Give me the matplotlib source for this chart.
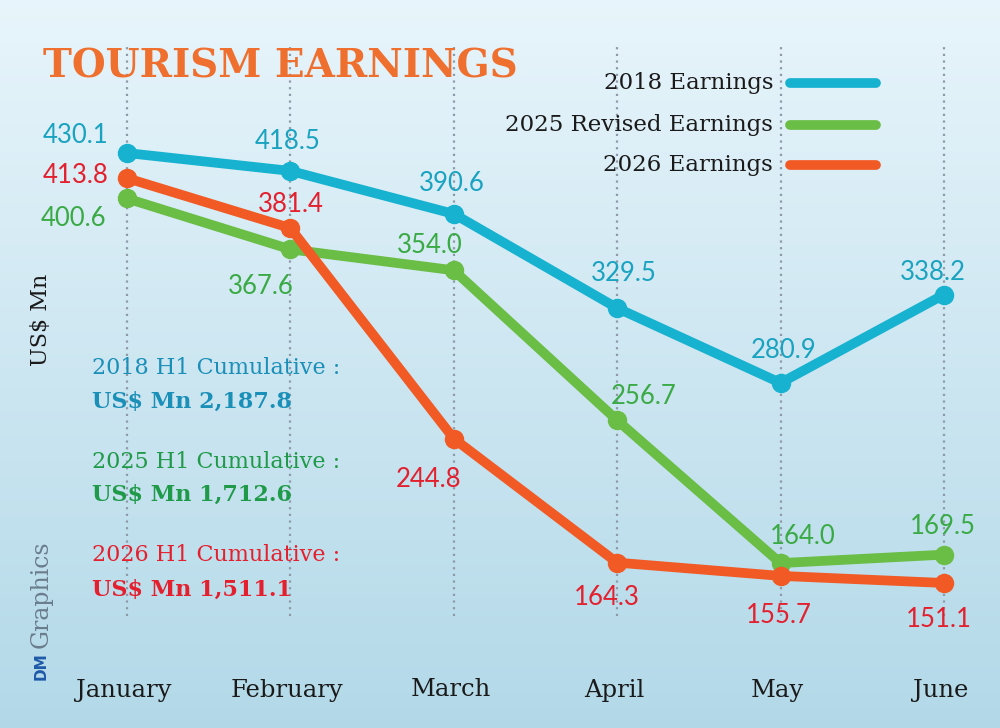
import numpy as np
import matplotlib
matplotlib.use("Agg")
import matplotlib.pyplot as plt
from matplotlib.lines import Line2D

months = ["January", "February", "March", "April", "May", "June"]
earn_2018 = [430.1, 418.5, 390.6, 329.5, 280.9, 338.2]
earn_2025 = [400.6, 367.6, 354.0, 256.7, 164.0, 169.5]
earn_2026 = [413.8, 381.4, 244.8, 164.3, 155.7, 151.1]
series_names = ["2018 Earnings", "2025 Revised Earnings", "2026 Earnings"]
cumulative = ["2,187.8", "1,712.6", "1,511.1"]
cum_years = ["2018", "2025", "2026"]

line_cols = ["#17b2d0", "#6abd45", "#f15a24"]
label_cols = ["#1aa3c0", "#3aaa45", "#e3202e"]
cum_cols = ["#1a8fb8", "#1f9a48", "#e5202e"]

# label offsets in pixels (dx, dy up)
offs = [
    [(-51, 18), (-3, 29), (-2, 30), (7, 35), (3, 32), (-11, 22)],
    [(-53, -20), (-30, -37), (-24, 25), (26, 24), (22, 27), (-1, 28)],
    [(-51, 3), (0, 24), (-25, -41), (-10, -35), (-2, -40), (-5, -37)],
]

serif = "DejaVu Serif"
sans = "Lato"

fig = plt.figure(figsize=(10, 7.28), dpi=100)
ax = fig.add_axes([0, 0, 1, 1])
ax.set_xlim(-0.777, 5.343)
ax.set_ylim(57.0, 529.4)
ax.axis("off")

# background gradient
grad = np.linspace(0, 1, 256).reshape(-1, 1)
top = np.array([0.91, 0.96, 0.985])
bot = np.array([0.70, 0.85, 0.91])
img = top[None, None, :] * (1 - grad[:, :, None]) + bot[None, None, :] * grad[:, :, None]
ax.imshow(img, extent=[-0.777, 5.343, 57.0, 529.4], aspect="auto", zorder=0)

x = np.arange(len(months))
# dotted vertical guides
for xi in x:
    ax.plot([xi, xi], [130, 500], color="#8e9aa8", ls=(0, (1, 2)), lw=1.6, zorder=1)

for i, vals in enumerate([earn_2018, earn_2025, earn_2026]):
    ax.plot(x, vals, color=line_cols[i], lw=7, marker="o", ms=13,
            solid_capstyle="round", zorder=4 if i == 2 else 3)
    for j, v in enumerate(vals):
        ax.annotate("%.1f" % v, (x[j], v), xytext=offs[i][j], textcoords="offset pixels",
                    ha="center", va="center", fontsize=18.5, color=label_cols[i],
                    family=sans, zorder=6)

# month labels
for xi, m in zip(x, months):
    ax.annotate(m, (xi, 57.0), xytext=(-3, 38), textcoords="offset pixels",
                ha="center", va="center", fontsize=17.5, family=serif, color="#1a1a1a")

# title
fig.text(0.043, 1 - 67 / 728, "TOURISM EARNINGS", fontsize=28, fontweight="bold",
         family=serif, color="#ef6f2e", ha="left", va="center")

# legend
leg_y = [83, 125, 165]
for i, name in enumerate(series_names):
    yy = 1 - leg_y[i] / 728
    fig.text(0.773, yy, name, fontsize=16.5, family=serif, color="#1a1a1a",
             ha="right", va="center")
    fig.add_artist(Line2D([0.79, 0.876], [yy, yy], color=line_cols[i], lw=7,
                          solid_capstyle="round", transform=fig.transFigure))

# cumulative notes
cum_y = [(368, 402), (462, 495), (555, 590)]
for i in range(3):
    fig.text(0.092, 1 - cum_y[i][0] / 728, cum_years[i] + " H1 Cumulative :", fontsize=16,
             family=serif, color=cum_cols[i], ha="left", va="center")
    fig.text(0.092, 1 - cum_y[i][1] / 728, "US$ Mn " + cumulative[i], fontsize=16,
             fontweight="bold", family=serif, color=cum_cols[i], ha="left", va="center")

# axis label
fig.text(0.041, 1 - 320 / 728, "US$ Mn", rotation=90, fontsize=16, family=serif,
         color="#1a1a1a", ha="center", va="center")

# credit
fig.text(0.041, 1 - 652 / 728, "DM", rotation=90, fontsize=11, fontweight="bold",
         family="DejaVu Sans", color="#1e5aa8", ha="center", va="top")
fig.text(0.041, 1 - 648 / 728, "Graphics", rotation=90, fontsize=17, family=serif,
         color="#6b7d8c", ha="center", va="bottom")

fig.savefig("out.png", dpi=100)
